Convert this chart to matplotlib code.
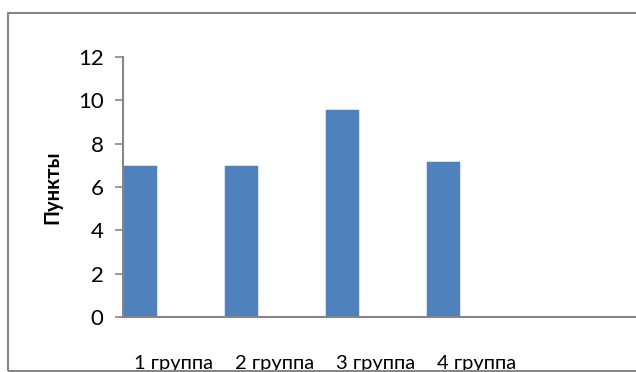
import matplotlib
matplotlib.use("Agg")
import matplotlib.pyplot as plt
from matplotlib.patches import Rectangle

categories = ["1 группа", "2 группа", "3 группа", "4 группа"]
values = [7.0, 7.0, 9.6, 7.2]
y_ticks = [0, 2, 4, 6, 8, 10, 12]
y_label = "Пункты"

W, H = 636, 372
fig = plt.figure(figsize=(W / 100, H / 100), dpi=100)
plt.rcParams["font.family"] = ["Lato", "DejaVu Sans"]

# outer chart frame (runs past right edge)
fig.patches.append(Rectangle((8 / W, 1 / H), 700 / W, (H - 14) / H,
                             transform=fig.transFigure, fill=False,
                             edgecolor="#868686", linewidth=1.5))

left, right = 123, 640
bottom, top = 317, 57
ax = fig.add_axes([left / W, (H - bottom) / H, (right - left) / W, (bottom - top) / H])

slot_px = 101
ax.set_xlim(0, (right - left) / slot_px)
ax.set_ylim(0, 12)

xs = list(range(len(categories)))
ax.bar(xs, values, width=1 / 3, align="edge", color="#4F81BD",
       edgecolor="#ffffff", linewidth=0.4)

ax.set_xticks([x + 0.5 for x in xs])
ax.set_xticklabels(categories, fontsize=14.5)
ax.tick_params(axis="x", length=0, pad=27)
ax.set_yticks(y_ticks)
ax.set_yticklabels([str(t) for t in y_ticks], fontsize=16)
ax.tick_params(axis="y", direction="out", length=6, width=1.2,
               color="#868686", pad=8)

for s in ("top", "right"):
    ax.spines[s].set_visible(False)
for s in ("left", "bottom"):
    ax.spines[s].set_color("#868686")
    ax.spines[s].set_linewidth(1.5)

ax.set_ylabel(y_label, fontsize=14.5, fontweight="bold", labelpad=11)

fig.savefig("out.png", dpi=100)
